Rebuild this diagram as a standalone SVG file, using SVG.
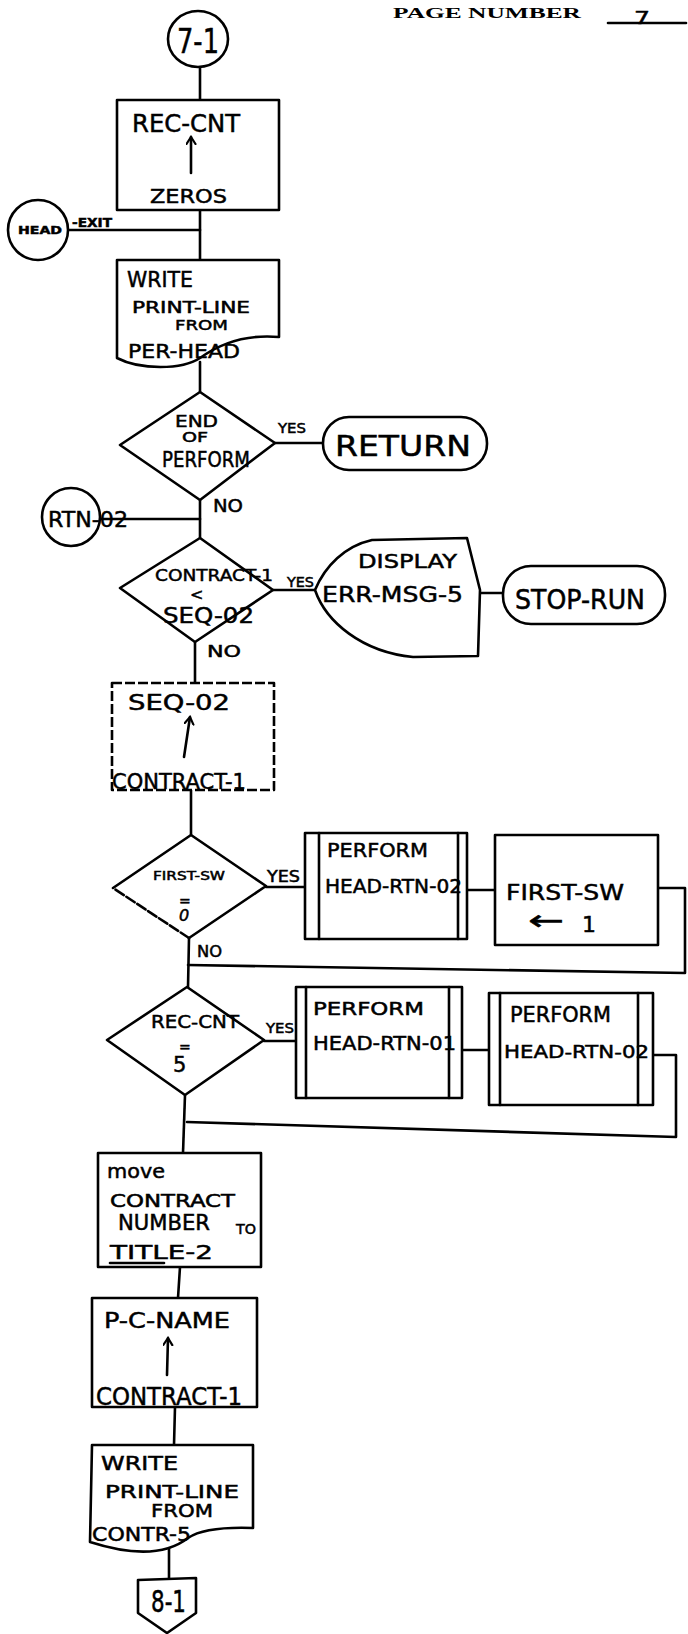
<svg xmlns="http://www.w3.org/2000/svg" width="688" height="1634" viewBox="0 0 688 1634">
<defs>
<style>
.s{fill:none;stroke:#000;stroke-width:2.6;stroke-linejoin:round;stroke-linecap:round}
.n{fill:#fff;stroke:#000;stroke-width:2.6;stroke-linejoin:round}
.d{stroke-dasharray:10 3}
.t{font-family:"DejaVu Sans","Liberation Sans",sans-serif;fill:#000;stroke:#000;stroke-width:0.5}
.h{font-family:"Liberation Serif","DejaVu Serif",serif;font-weight:bold;fill:#000}
</style>
<marker id="up" markerWidth="12" markerHeight="12" refX="8" refY="5" orient="auto" markerUnits="userSpaceOnUse">
<path d="M1,0.5 L8,5 L1,9.5" fill="none" stroke="#000" stroke-width="2.2" stroke-linecap="round"/>
</marker>
</defs>
<rect width="688" height="1634" fill="#fff"/>

<g id="header">
<text class="h" x="393" y="18" font-size="15" textLength="188" lengthAdjust="spacingAndGlyphs">PAGE NUMBER</text>
<text class="t" x="634" y="24" font-size="18" textLength="16" lengthAdjust="spacingAndGlyphs">7</text>
<line class="s" x1="608" y1="23" x2="686" y2="23"/>
</g>

<g id="connectors">
<line class="s" x1="200" y1="67" x2="200" y2="100"/>
<line class="s" x1="200" y1="210" x2="200" y2="260"/>
<line class="s" x1="68" y1="230" x2="200" y2="230"/>
<line class="s" x1="200" y1="362" x2="200" y2="392"/>
<line class="s" x1="275" y1="443" x2="323" y2="443"/>
<line class="s" x1="200" y1="500" x2="200" y2="538"/>
<line class="s" x1="100" y1="519" x2="200" y2="519"/>
<line class="s" x1="273" y1="590" x2="315" y2="590"/>
<line class="s" x1="480" y1="593" x2="503" y2="593"/>
<line class="s" x1="195" y1="642" x2="195" y2="683"/>
<line class="s" x1="191" y1="790" x2="191" y2="835"/>
<line class="s" x1="266" y1="887" x2="305" y2="887"/>
<line class="s" x1="467" y1="890" x2="495" y2="890"/>
<polyline class="s" points="658,888 685,888 685,973 188,965"/>
<line class="s" x1="189" y1="938" x2="188" y2="987"/>
<line class="s" x1="264" y1="1041" x2="296" y2="1041"/>
<line class="s" x1="462" y1="1050" x2="489" y2="1050"/>
<polyline class="s" points="649,1055 676,1055 676,1137 187,1122"/>
<line class="s" x1="185" y1="1095" x2="183" y2="1153"/>
<line class="s" x1="180" y1="1267" x2="178" y2="1298"/>
<line class="s" x1="175" y1="1407" x2="174" y2="1445"/>
<line class="s" x1="169" y1="1548" x2="169" y2="1580"/>
<text class="t" x="278" y="433" font-size="14" textLength="28" lengthAdjust="spacingAndGlyphs">YES</text>
<text class="t" x="213" y="512" font-size="18" textLength="30" lengthAdjust="spacingAndGlyphs">NO</text>
<text class="t" x="287" y="587" font-size="14" textLength="27" lengthAdjust="spacingAndGlyphs">YES</text>
<text class="t" x="207" y="657" font-size="16" textLength="34" lengthAdjust="spacingAndGlyphs">NO</text>
<text class="t" x="267" y="882" font-size="15" textLength="33" lengthAdjust="spacingAndGlyphs">YES</text>
<text class="t" x="197" y="957" font-size="15" textLength="25" lengthAdjust="spacingAndGlyphs">NO</text>
<text class="t" x="266" y="1033" font-size="14" textLength="28" lengthAdjust="spacingAndGlyphs">YES</text>
</g>

<g id="c71">
<ellipse class="n" cx="198" cy="39" rx="30" ry="28"/>
<text class="t" x="177" y="53" font-size="34" textLength="42" lengthAdjust="spacingAndGlyphs">7-1</text>
</g>

<g id="reccnt">
<rect class="n" x="117" y="100" width="162" height="110"/>
<text class="t" x="132" y="132" font-size="25" textLength="108" lengthAdjust="spacingAndGlyphs">REC-CNT</text>
<line class="s" x1="191" y1="173" x2="191" y2="137" marker-end="url(#up)"/>
<text class="t" x="150" y="203" font-size="20" textLength="77" lengthAdjust="spacingAndGlyphs">ZEROS</text>
</g>

<g id="headexit">
<circle class="n" cx="38" cy="230" r="30"/>
<text class="t" x="18" y="234" font-size="11" font-weight="bold" textLength="44" lengthAdjust="spacingAndGlyphs">HEAD</text>
<text class="t" x="72" y="227" font-size="12" font-weight="bold" textLength="40" lengthAdjust="spacingAndGlyphs">-EXIT</text>
</g>

<g id="write1">
<path class="n" d="M117,260 H279 V337 C245,334 218,345 200,358 C182,370 140,370 117,358 Z"/>
<text class="t" x="127" y="287" font-size="22" textLength="66" lengthAdjust="spacingAndGlyphs">WRITE</text>
<text class="t" x="132" y="313" font-size="15" textLength="118" lengthAdjust="spacingAndGlyphs">PRINT-LINE</text>
<text class="t" x="175" y="330" font-size="14" textLength="53" lengthAdjust="spacingAndGlyphs">FROM</text>
<text class="t" x="128" y="358" font-size="20" textLength="112" lengthAdjust="spacingAndGlyphs">PER-HEAD</text>
</g>

<g id="endperform">
<polygon class="n" points="200,392 275,443 200,500 120,445"/>
<text class="t" x="175" y="427" font-size="16" textLength="43" lengthAdjust="spacingAndGlyphs">END</text>
<text class="t" x="182" y="442" font-size="14" textLength="26" lengthAdjust="spacingAndGlyphs">OF</text>
<text class="t" x="162" y="467" font-size="21" textLength="88" lengthAdjust="spacingAndGlyphs">PERFORM</text>
</g>

<g id="return">
<rect class="n" x="323" y="417" width="164" height="53" rx="26"/>
<text class="t" x="335" y="456" font-size="28" textLength="136" lengthAdjust="spacingAndGlyphs">RETURN</text>
</g>

<g id="rtn02">
<circle class="n" cx="71" cy="517" r="29"/>
<text class="t" x="48" y="527" font-size="22" textLength="80" lengthAdjust="spacingAndGlyphs">RTN-02</text>
</g>

<g id="contractlt">
<polygon class="n" points="200,538 273,590 195,642 120,588"/>
<text class="t" x="155" y="581" font-size="16" textLength="118" lengthAdjust="spacingAndGlyphs">CONTRACT-1</text>
<text class="t" x="190" y="600" font-size="16">&lt;</text>
<text class="t" x="163" y="623" font-size="21" textLength="91" lengthAdjust="spacingAndGlyphs">SEQ-02</text>
</g>

<g id="display">
<path class="n" d="M467,538 L372,540 C345,546 325,566 315,590 C326,622 362,652 413,657 L478,656 L480,590 Z"/>
<text class="t" x="358" y="568" font-size="20" textLength="99" lengthAdjust="spacingAndGlyphs">DISPLAY</text>
<text class="t" x="322" y="602" font-size="22" textLength="141" lengthAdjust="spacingAndGlyphs">ERR-MSG-5</text>
</g>

<g id="stoprun">
<rect class="n" x="503" y="566" width="162" height="58" rx="28"/>
<text class="t" x="515" y="609" font-size="26" textLength="130" lengthAdjust="spacingAndGlyphs">STOP-RUN</text>
</g>

<g id="seq02">
<rect class="n d" x="112" y="683" width="162" height="107"/>
<text class="t" x="128" y="710" font-size="22" textLength="102" lengthAdjust="spacingAndGlyphs">SEQ-02</text>
<line class="s" x1="184" y1="757" x2="190" y2="717" marker-end="url(#up)"/>
<text class="t" x="112" y="789" font-size="22" textLength="134" lengthAdjust="spacingAndGlyphs">CONTRACT-1</text>
</g>

<g id="firstsw">
<polyline class="s" points="113,888 191,835 266,886 189,938"/>
<polyline class="s d" points="189,938 113,888"/>
<text class="t" x="153" y="880" font-size="12" textLength="72" lengthAdjust="spacingAndGlyphs">FIRST-SW</text>
<text class="t" x="179" y="906" font-size="14">=</text>
<text class="t" x="179" y="921" font-size="16" font-style="italic">0</text>
</g>

<g id="perform1">
<rect class="n" x="305" y="833" width="162" height="106"/>
<line class="s" x1="319" y1="833" x2="319" y2="939"/>
<line class="s" x1="458" y1="833" x2="458" y2="939"/>
<text class="t" x="327" y="857" font-size="20" textLength="101" lengthAdjust="spacingAndGlyphs">PERFORM</text>
<text class="t" x="325" y="893" font-size="19" textLength="137" lengthAdjust="spacingAndGlyphs">HEAD-RTN-02</text>
</g>

<g id="setfirst">
<rect class="n" x="495" y="835" width="163" height="110"/>
<text class="t" x="506" y="900" font-size="22" textLength="118" lengthAdjust="spacingAndGlyphs">FIRST-SW</text>
<text class="t" x="528" y="930" font-size="28" textLength="36" lengthAdjust="spacingAndGlyphs">←</text>
<text class="t" x="582" y="932" font-size="22">1</text>
</g>

<g id="reccnt5">
<polygon class="n" points="187,987 264,1040 185,1095 107,1040"/>
<text class="t" x="151" y="1028" font-size="18" textLength="88" lengthAdjust="spacingAndGlyphs">REC-CNT</text>
<text class="t" x="179" y="1052" font-size="14">=</text>
<text class="t" x="173" y="1072" font-size="21">5</text>
</g>

<g id="perform2">
<rect class="n" x="296" y="987" width="166" height="111"/>
<line class="s" x1="306" y1="987" x2="306" y2="1098"/>
<line class="s" x1="449" y1="987" x2="449" y2="1098"/>
<text class="t" x="313" y="1015" font-size="18" textLength="111" lengthAdjust="spacingAndGlyphs">PERFORM</text>
<text class="t" x="313" y="1050" font-size="19" textLength="143" lengthAdjust="spacingAndGlyphs">HEAD-RTN-01</text>
</g>

<g id="perform3">
<rect class="n" x="489" y="993" width="164" height="112"/>
<line class="s" x1="500" y1="993" x2="500" y2="1105"/>
<line class="s" x1="638" y1="993" x2="638" y2="1105"/>
<text class="t" x="510" y="1022" font-size="21" textLength="101" lengthAdjust="spacingAndGlyphs">PERFORM</text>
<text class="t" x="504" y="1058" font-size="18" textLength="145" lengthAdjust="spacingAndGlyphs">HEAD-RTN-02</text>
</g>

<g id="move">
<rect class="n" x="98" y="1153" width="163" height="114"/>
<text class="t" x="107" y="1178" font-size="19" textLength="58" lengthAdjust="spacingAndGlyphs">move</text>
<text class="t" x="110" y="1207" font-size="17" textLength="125" lengthAdjust="spacingAndGlyphs">CONTRACT</text>
<text class="t" x="118" y="1230" font-size="21" textLength="92" lengthAdjust="spacingAndGlyphs">NUMBER</text>
<text class="t" x="236" y="1234" font-size="14" textLength="20" lengthAdjust="spacingAndGlyphs">TO</text>
<text class="t" x="110" y="1259" font-size="20" textLength="103" lengthAdjust="spacingAndGlyphs">TITLE-2</text>
<line class="s" x1="110" y1="1263" x2="164" y2="1263" stroke-width="1.8"/>
</g>

<g id="pcname">
<rect class="n" x="92" y="1298" width="165" height="109"/>
<text class="t" x="104" y="1328" font-size="22" textLength="126" lengthAdjust="spacingAndGlyphs">P-C-NAME</text>
<line class="s" x1="167" y1="1375" x2="168" y2="1338" marker-end="url(#up)"/>
<text class="t" x="96" y="1405" font-size="24" textLength="146" lengthAdjust="spacingAndGlyphs">CONTRACT-1</text>
</g>

<g id="write2">
<path class="n" d="M92,1445 H253 V1528 C225,1527 200,1530 188,1538 C170,1552 140,1558 90,1542 Z"/>
<text class="t" x="101" y="1470" font-size="19" textLength="77" lengthAdjust="spacingAndGlyphs">WRITE</text>
<text class="t" x="105" y="1498" font-size="17" textLength="134" lengthAdjust="spacingAndGlyphs">PRINT-LINE</text>
<text class="t" x="151" y="1517" font-size="18" textLength="62" lengthAdjust="spacingAndGlyphs">FROM</text>
<text class="t" x="92" y="1541" font-size="19" textLength="99" lengthAdjust="spacingAndGlyphs">CONTR-5</text>
</g>

<g id="c81">
<polygon class="n" points="138,1580 196,1578 196,1613 167,1633 138,1613"/>
<text class="t" x="151" y="1612" font-size="30" textLength="35" lengthAdjust="spacingAndGlyphs">8-1</text>
</g>
</svg>
